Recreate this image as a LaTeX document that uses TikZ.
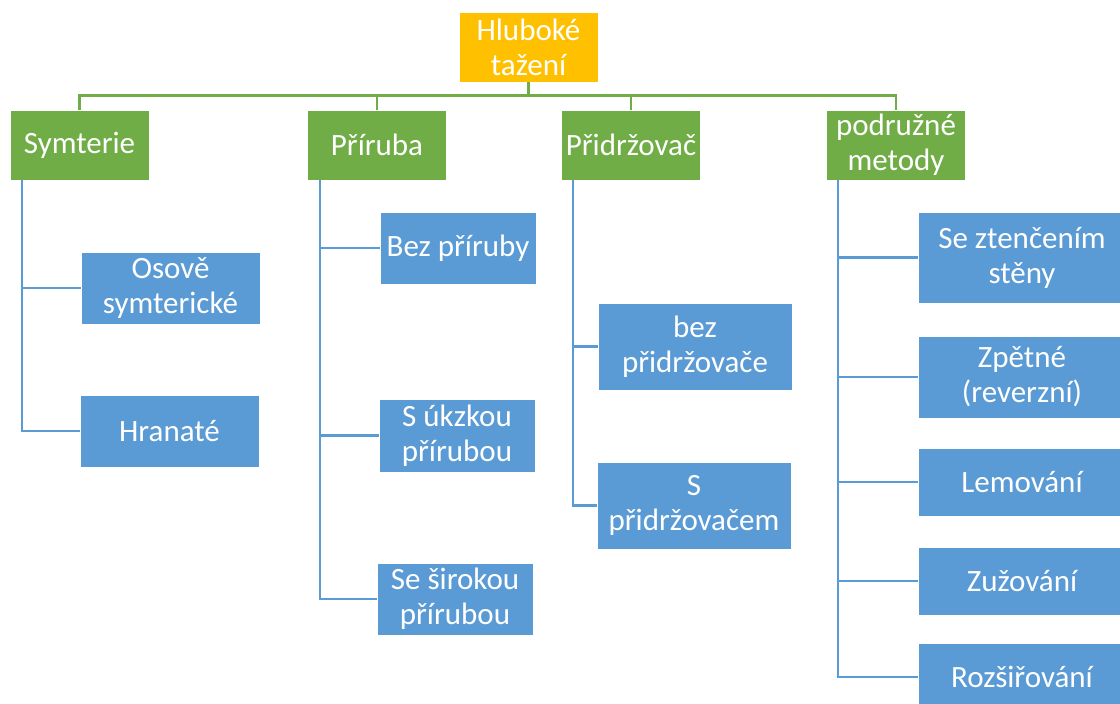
\documentclass[tikz,border=0pt]{standalone}
\usepackage{fontspec}
\setmainfont{Carlito}
\definecolor{topclr}{HTML}{FFC000}
\definecolor{grpclr}{HTML}{70AD47}
\definecolor{itemclr}{HTML}{5B9BD5}
\tikzset{
  box/.style={draw=white, line width=0.8pt, text=white, align=center, inner sep=0pt,
    font=\fontsize{31}{35}\selectfont},
  topbox/.style={box, fill=topclr, minimum width=139, minimum height=70},
  grpbox/.style={box, fill=grpclr, minimum width=139, minimum height=70},
  itembox/.style={box, fill=itemclr},
  grpline/.style={draw=grpclr, line width=2.6pt},
  itemline/.style={draw=itemclr, line width=2.6pt},
}
\begin{document}
\begin{tikzpicture}[x=1pt, y=-1pt]
      \clip (0,0) rectangle (1120,704);
      \fill[white] (0,0) rectangle (1120,704);
      \node[topbox] (root) at (528.5,47) {Hluboké\\tažení};
      \node[grpbox] (sym) at (79.5,145) {Symterie};
      \node[grpbox] (pri) at (377,145) {Příruba};
      \node[grpbox] (prid) at (631,145) {Přidržovač};
      \node[grpbox] (podr) at (896,145) {podružné\\metody};
      \node[itembox, minimum width=179, minimum height=72] (oso) at (170.5,288) {Osově\\symterické};
      \node[itembox, minimum width=179, minimum height=72] (hran) at (169.5,431) {Hranaté};
      \node[itembox, minimum width=156, minimum height=72] (bez) at (458,248) {Bez příruby};
      \node[itembox, minimum width=156, minimum height=73] (ukz) at (457,435.5) {S úkzkou\\přírubou};
      \node[itembox, minimum width=156, minimum height=72] (sir) at (455,599) {Se širokou\\přírubou};
      \node[itembox, minimum width=194, minimum height=87] (bezp) at (695,346.5) {bez\\přidržovače};
      \node[itembox, minimum width=194, minimum height=87] (sp) at (694,505.5) {S\\přidržovačem};
      \node[itembox, minimum width=208, minimum height=91] (zten) at (1022,257.5) {Se ztenčením\\stěny};
      \node[itembox, minimum width=208, minimum height=82] (zpet) at (1022,377) {Zpětné\\(reverzní)};
      \node[itembox, minimum width=208, minimum height=68] (lem) at (1022,482) {Lemování};
      \node[itembox, minimum width=208, minimum height=68] (zuz) at (1022,581) {Zužování};
      \node[itembox, minimum width=208, minimum height=68] (roz) at (1022,677) {Rozšiřování};
      \begin{scope}[grpline]
        \draw (root.south) -- ++(0,13) -| (sym.north);
        \draw (root.south) -- ++(0,13) -| (pri.north);
        \draw (root.south) -- ++(0,13) -| (prid.north);
        \draw (root.south) -- ++(0,13) -| (podr.north);
      \end{scope}
      \begin{scope}[itemline]
        \draw ([xshift=12.5]sym.south west) |- (oso.west);
        \draw ([xshift=12.5]sym.south west) |- (hran.west);
        \draw ([xshift=13]pri.south west) |- (bez.west);
        \draw ([xshift=13]pri.south west) |- (ukz.west);
        \draw ([xshift=13]pri.south west) |- (sir.west);
        \draw ([xshift=12]prid.south west) |- (bezp.west);
        \draw ([xshift=12]prid.south west) |- (sp.west);
        \draw ([xshift=12]podr.south west) |- (zten.west);
        \draw ([xshift=12]podr.south west) |- (zpet.west);
        \draw ([xshift=12]podr.south west) |- (lem.west);
        \draw ([xshift=12]podr.south west) |- (zuz.west);
        \draw ([xshift=12]podr.south west) |- (roz.west);
      \end{scope}
    \end{tikzpicture}
\end{document}
